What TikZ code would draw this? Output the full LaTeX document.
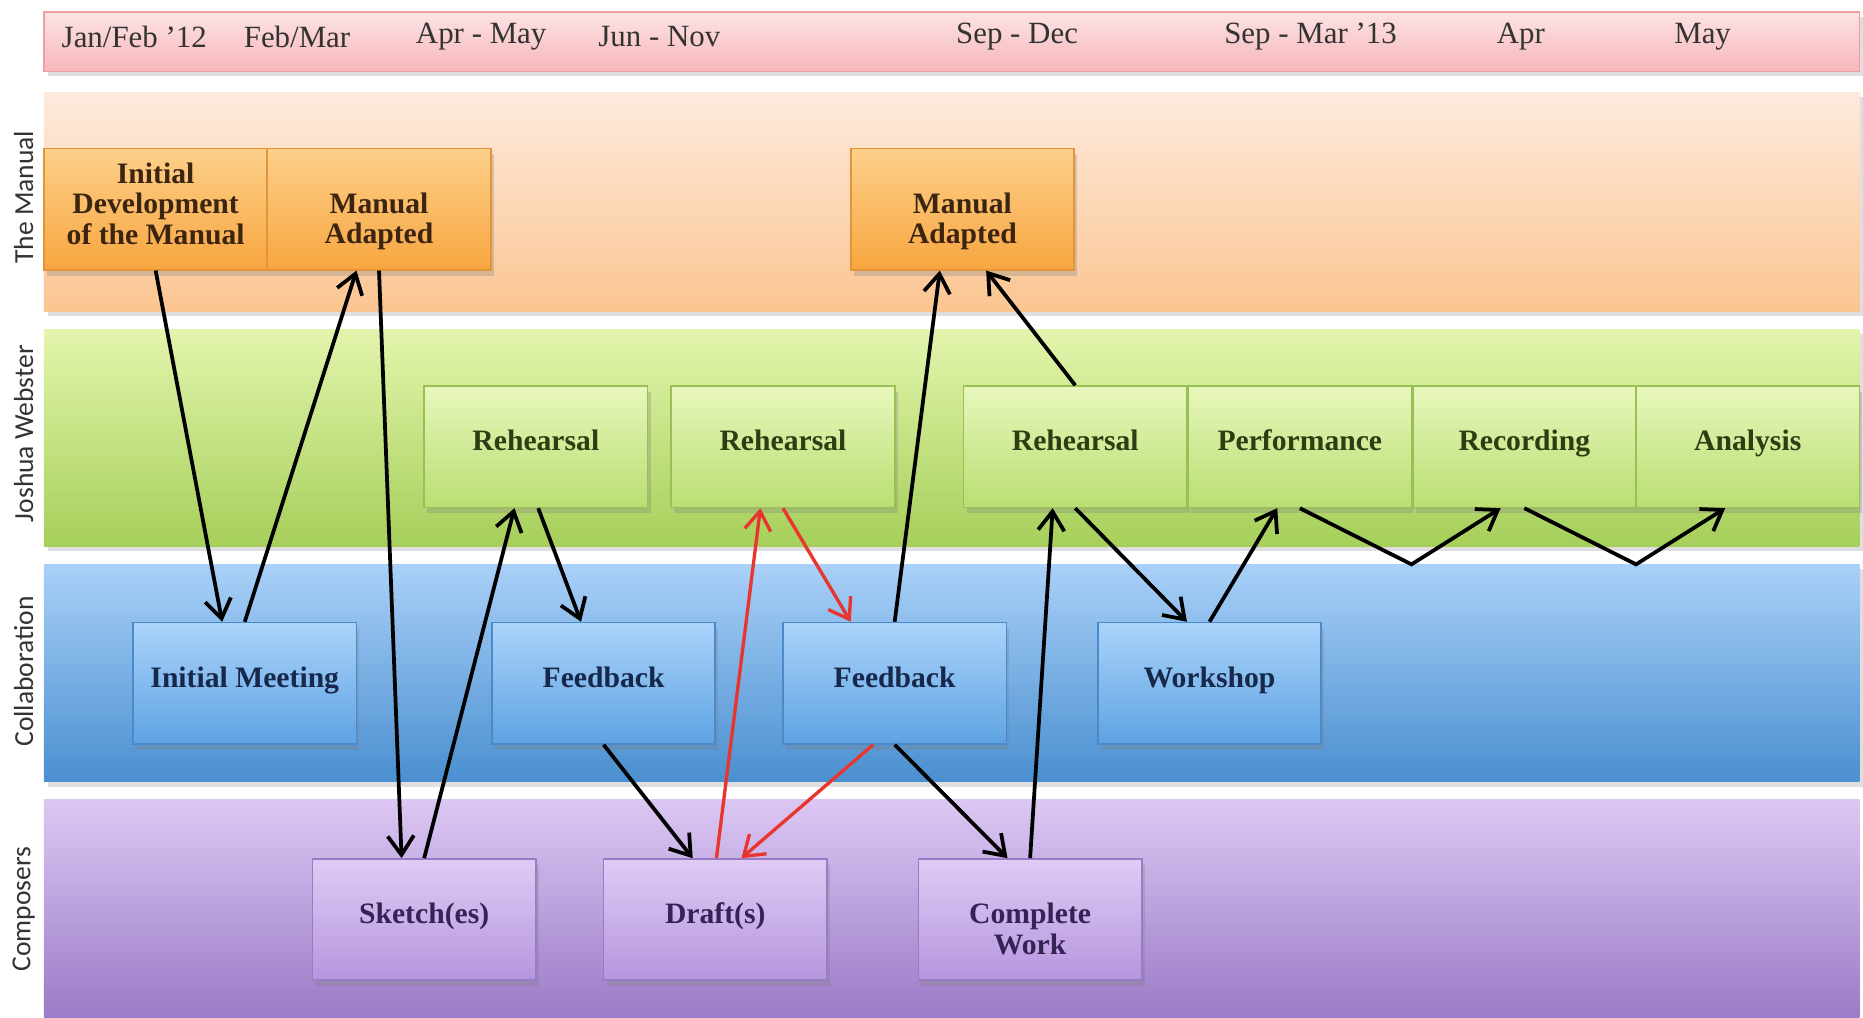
\documentclass[tikz,border=0pt]{standalone}
\usepackage{fontspec}
\setmainfont{Liberation Serif}
\newfontfamily\sidefont{Carlito}
\usetikzlibrary{arrows.meta,shadows,calc}
\definecolor{tlTop}{HTML}{FDE3E5}
\definecolor{tlBot}{HTML}{F6B6B9}
\definecolor{tlLine}{HTML}{EE9FA3}
\definecolor{mbTop}{HTML}{FDEADD}
\definecolor{mbBot}{HTML}{FBC591}
\definecolor{gbTop}{HTML}{E3F5AD}
\definecolor{gbBot}{HTML}{A6CF5A}
\definecolor{bbTop}{HTML}{A9D0F8}
\definecolor{bbBot}{HTML}{4A8FD0}
\definecolor{pbTop}{HTML}{DCC7F3}
\definecolor{pbBot}{HTML}{9A7BC7}
\definecolor{mxTop}{HTML}{FDD08A}
\definecolor{mxBot}{HTML}{F8A640}
\definecolor{mxLine}{HTML}{E39338}
\definecolor{mxText}{HTML}{3B2410}
\definecolor{gxTop}{HTML}{E8F7BC}
\definecolor{gxBot}{HTML}{B9DE72}
\definecolor{gxLine}{HTML}{98C055}
\definecolor{gxText}{HTML}{2E3D12}
\definecolor{bxTop}{HTML}{AAD3FA}
\definecolor{bxBot}{HTML}{5EA3E3}
\definecolor{bxLine}{HTML}{4A8ACB}
\definecolor{bxText}{HTML}{17284A}
\definecolor{pxTop}{HTML}{DFCBF5}
\definecolor{pxBot}{HTML}{B596DE}
\definecolor{pxLine}{HTML}{9A7CC6}
\definecolor{pxText}{HTML}{362356}
\definecolor{redArrow}{HTML}{E8352E}
\definecolor{labelGray}{HTML}{333333}
\tikzset{
  bandshadow/.style={drop shadow={shadow xshift=0.3mm, shadow yshift=-0.4mm, opacity=0.25}},
  sidelabel/.style={rotate=90, font=\sidefont\fontsize{6.6}{7.5}\selectfont, text=labelGray, inner sep=0pt},
  timelabel/.style={font=\fontsize{7.4}{8.5}\selectfont, text=labelGray, inner sep=0pt},
  stepbox/.style={minimum width=18.8mm, minimum height=10.2mm, inner sep=1pt, align=center,
    font=\bfseries\fontsize{7.1}{7.3}\selectfont, line width=0.4pt,
    drop shadow={shadow xshift=0.25mm, shadow yshift=-0.5mm, opacity=0.3}},
  oneline/.style={text height=1.2ex, text depth=0.8ex},
  multiline/.style={text depth=2.6pt},
  manbox/.style={stepbox, multiline, top color=mxTop, bottom color=mxBot, draw=mxLine, text=mxText},
  jwbox/.style={stepbox, oneline, top color=gxTop, bottom color=gxBot, draw=gxLine, text=gxText},
  colbox/.style={stepbox, oneline, top color=bxTop, bottom color=bxBot, draw=bxLine, text=bxText},
  compbox/.style={stepbox, top color=pxTop, bottom color=pxBot, draw=pxLine, text=pxText},
  arr/.style={line width=0.9pt, draw=black, -{Straight Barb[length=1.6mm,width=2.2mm]}},
  redarr/.style={line width=0.8pt, draw=redArrow, -{Straight Barb[length=1.6mm,width=2.2mm]}}
}
\begin{document}
\begin{tikzpicture}[x=0.1mm,y=0.1mm]
\useasboundingbox (0,0) rectangle (1568,-856);
\fill[white] (0,0) rectangle (1568,-856);
% bands
\path[bandshadow, top color=tlTop, bottom color=tlBot, draw=tlLine, line width=0.3pt] (37,-10) rectangle (1565,-60);
\path[bandshadow, top color=mbTop, bottom color=mbBot] (37,-78) rectangle (1565,-262);
\path[bandshadow, top color=gbTop, bottom color=gbBot] (37,-277) rectangle (1565,-460);
\path[bandshadow, top color=bbTop, bottom color=bbBot] (37,-475) rectangle (1565,-658);
\path[top color=pbTop, bottom color=pbBot] (37,-673) rectangle (1565,-856);
% side labels
\node[sidelabel] (sManual) at (20,-166) {The Manual};
\node[sidelabel] (sJosh) at (20,-365) {Joshua Webster};
\node[sidelabel] (sCollab) at (20,-565) {Collaboration};
\node[sidelabel] (sComp) at (20,-765) {Composers};
% timeline
\node[timelabel] (t1) at (113,-31) {Jan/Feb '12};
\node[timelabel] (t2) at (250,-31) {Feb/Mar};
\node[timelabel] (t3) at (405,-31) {Apr - May};
\node[timelabel] (t4) at (555,-31) {Jun - Nov};
\node[timelabel] (t5) at (856,-31) {Sep - Dec};
\node[timelabel] (t6) at (1103,-31) {Sep - Mar '13};
\node[timelabel] (t7) at (1280,-31) {Apr};
\node[timelabel] (t8) at (1433,-31) {May};
% manual boxes
\node[manbox] (init) at (131,-176) {Initial\\Development\\of the Manual};
\node[manbox] (man1) at (319,-176) {\vphantom{I}\\Manual\\Adapted};
\node[manbox] (man2) at (810,-176) {\vphantom{I}\\Manual\\Adapted};
% Joshua Webster boxes
\node[jwbox] (reh1) at (451,-376) {Rehearsal};
\node[jwbox] (reh2) at (659,-376) {Rehearsal};
\node[jwbox] (reh3) at (905,-376) {Rehearsal};
\node[jwbox] (perf) at (1094,-376) {Performance};
\node[jwbox] (rec) at (1283,-376) {Recording};
\node[jwbox] (ana) at (1471,-376) {Analysis};
% collaboration boxes
\node[colbox] (im) at (206,-575) {Initial Meeting};
\node[colbox] (fb1) at (508,-575) {Feedback};
\node[colbox] (fb2) at (753,-575) {Feedback};
\node[colbox] (ws) at (1018,-575) {Workshop};
% composer boxes
\node[compbox, oneline] (sk) at (357,-774) {Sketch(es)};
\node[compbox, oneline] (dr) at (602,-774) {Draft(s)};
\node[compbox, multiline] (cw) at (867,-774) {\vphantom{I}\\Complete\\Work};
% V apex points
\coordinate (v1) at (1188,-475);
\coordinate (v2) at (1377,-475);
% arrows
\draw[arr] (init.south) -- ($(im.north)+(-19,0)$);
\draw[arr] (im.north) -- ($(man1.south)+(-19,0)$);
\draw[arr] (man1.south) -- ($(sk.north)+(-19,0)$);
\draw[arr] (sk.north) -- ($(reh1.south)+(-18,0)$);
\draw[arr] ($(reh1.south)+(2,0)$) -- ($(fb1.north)+(-19,0)$);
\draw[arr] (fb1.south) -- ($(dr.north)+(-19,0)$);
\draw[redarr] ($(dr.north)+(1,0)$) -- ($(reh2.south)+(-19,0)$);
\draw[redarr] (reh2.south) -- ($(fb2.north)+(-37,0)$);
\draw[redarr] ($(fb2.south)+(-18,0)$) -- ($(dr.north)+(22,0)$);
\draw[arr] (fb2.north) -- ($(man2.south)+(-19,0)$);
\draw[arr] (fb2.south) -- ($(cw.north)+(-19,0)$);
\draw[arr] (cw.north) -- ($(reh3.south)+(-19,0)$);
\draw[arr] (reh3.north) -- ($(man2.south)+(20,0)$);
\draw[arr] (reh3.south) -- ($(ws.north)+(-19,0)$);
\draw[arr] (ws.north) -- ($(perf.south)+(-19,0)$);
\draw[arr] (perf.south) -- (v1) -- ($(rec.south)+(-20,0)$);
\draw[arr] (rec.south) -- (v2) -- ($(ana.south)+(-19,0)$);
\end{tikzpicture}
\end{document}
